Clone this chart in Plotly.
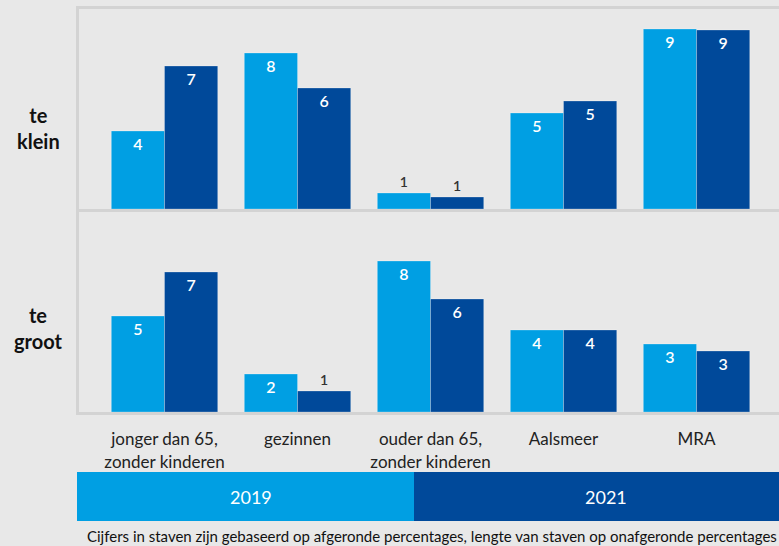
import plotly.graph_objects as go
from plotly.subplots import make_subplots

categories = ["jonger dan 65,<br>zonder kinderen", "gezinnen", "ouder dan 65,<br>zonder kinderen", "Aalsmeer", "MRA"]
years = ["2019", "2021"]

# te klein: bar lengths (unrounded estimates) and printed rounded labels
klein_2019 = [3.9, 7.8, 0.8, 4.8, 9.0]
klein_2021 = [7.15, 6.05, 0.6, 5.4, 8.95]
klein_2019_lbl = [4, 8, 1, 5, 9]
klein_2021_lbl = [7, 6, 1, 5, 9]

# te groot
groot_2019 = [4.8, 1.9, 7.55, 4.1, 3.4]
groot_2021 = [7.0, 1.05, 5.65, 4.1, 3.05]
groot_2019_lbl = [5, 2, 8, 4, 3]
groot_2021_lbl = [7, 1, 6, 4, 3]

row_labels = ["te<br>klein", "te<br>groot"]
footnote = "Cijfers in staven zijn gebaseerd op afgeronde percentages, lengte van staven op onafgeronde percentages"

C2019 = "#009fe3"
C2021 = "#00499a"
BG = "#e8e8e8"
LINE = "#d3d3d3"
FONT = "Lato"

fig = make_subplots(rows=2, cols=1, shared_xaxes=False, vertical_spacing=3/403)

def add(vals, lbls, color, row):
    pos = ["inside" if v >= 1.5 else "outside" for v in vals]
    fig.add_trace(go.Bar(
        x=list(range(len(categories))), y=vals, text=[str(l) for l in lbls],
        textposition=pos, insidetextanchor="end",
        insidetextfont=dict(color="white", size=16, family=FONT, weight=600),
        outsidetextfont=dict(color="#333333", size=14, family=FONT, weight=600),
        marker=dict(color=color, line=dict(color="rgba(255,255,255,0.25)", width=1)),
        cliponaxis=False, showlegend=False, hoverinfo="skip"), row=row, col=1)

add(klein_2019, klein_2019_lbl, C2019, 1)
add(klein_2021, klein_2021_lbl, C2021, 1)
add(groot_2019, groot_2019_lbl, C2019, 2)
add(groot_2021, groot_2021_lbl, C2021, 2)

xr = [-0.643, 4.62]
for r in (1, 2):
    fig.update_xaxes(range=xr, showline=True, mirror=True, linecolor=LINE, linewidth=3,
                     showgrid=False, zeroline=False, row=r, col=1,
                     tickvals=list(range(len(categories))), ticktext=categories,
                     showticklabels=(r == 2), ticks="outside" if r == 2 else "",
                     ticklen=10, tickcolor="rgba(0,0,0,0)",
                     tickfont=dict(family=FONT, size=17, color="#222222"))
    fig.update_yaxes(range=[0, 10], showline=True, linecolor=LINE, linewidth=3,
                     showgrid=False, zeroline=False, showticklabels=False, row=r, col=1)

fig.update_layout(
    width=779, height=546, barmode="group", bargap=0.2, bargroupgap=0,
    paper_bgcolor=BG, plot_bgcolor=BG,
    margin=dict(l=79, r=0, t=9, b=134),
    font=dict(family=FONT),
)

H = 403.0
W = 700.0
def px_x(p):
    return (p - 79) / W
def px_y(p):
    return (412 - p) / H

# row labels
for lbl, yc in zip(row_labels, [128, 328]):
    fig.add_annotation(text="<b>" + lbl + "</b>", xref="paper", yref="paper",
                       x=px_x(38), y=px_y(yc), xanchor="center", yanchor="middle",
                       showarrow=False, font=dict(size=20, color="#111111", family=FONT))

# legend band
for yr, col, x0, x1, xt in zip(years, [C2019, C2021], [77, 414], [414, 779], [251, 606]):
    fig.add_shape(type="rect", xref="paper", yref="paper",
                  x0=px_x(x0), x1=px_x(x1), y0=px_y(521), y1=px_y(472),
                  fillcolor=col, line=dict(width=0), layer="above")
    fig.add_annotation(text=yr, xref="paper", yref="paper",
                       x=px_x(xt), y=px_y(497), xanchor="center", yanchor="middle",
                       showarrow=False, font=dict(size=18, color="white", family=FONT))

fig.add_annotation(text=footnote, xref="paper", yref="paper",
                   x=px_x(85), y=px_y(536), xanchor="left", yanchor="middle", showarrow=False,
                   font=dict(size=15, color="#111111", family=FONT))

fig.write_html("out.html", config={"displayModeBar": False},
               post_script="document.body.style.margin='0';")
